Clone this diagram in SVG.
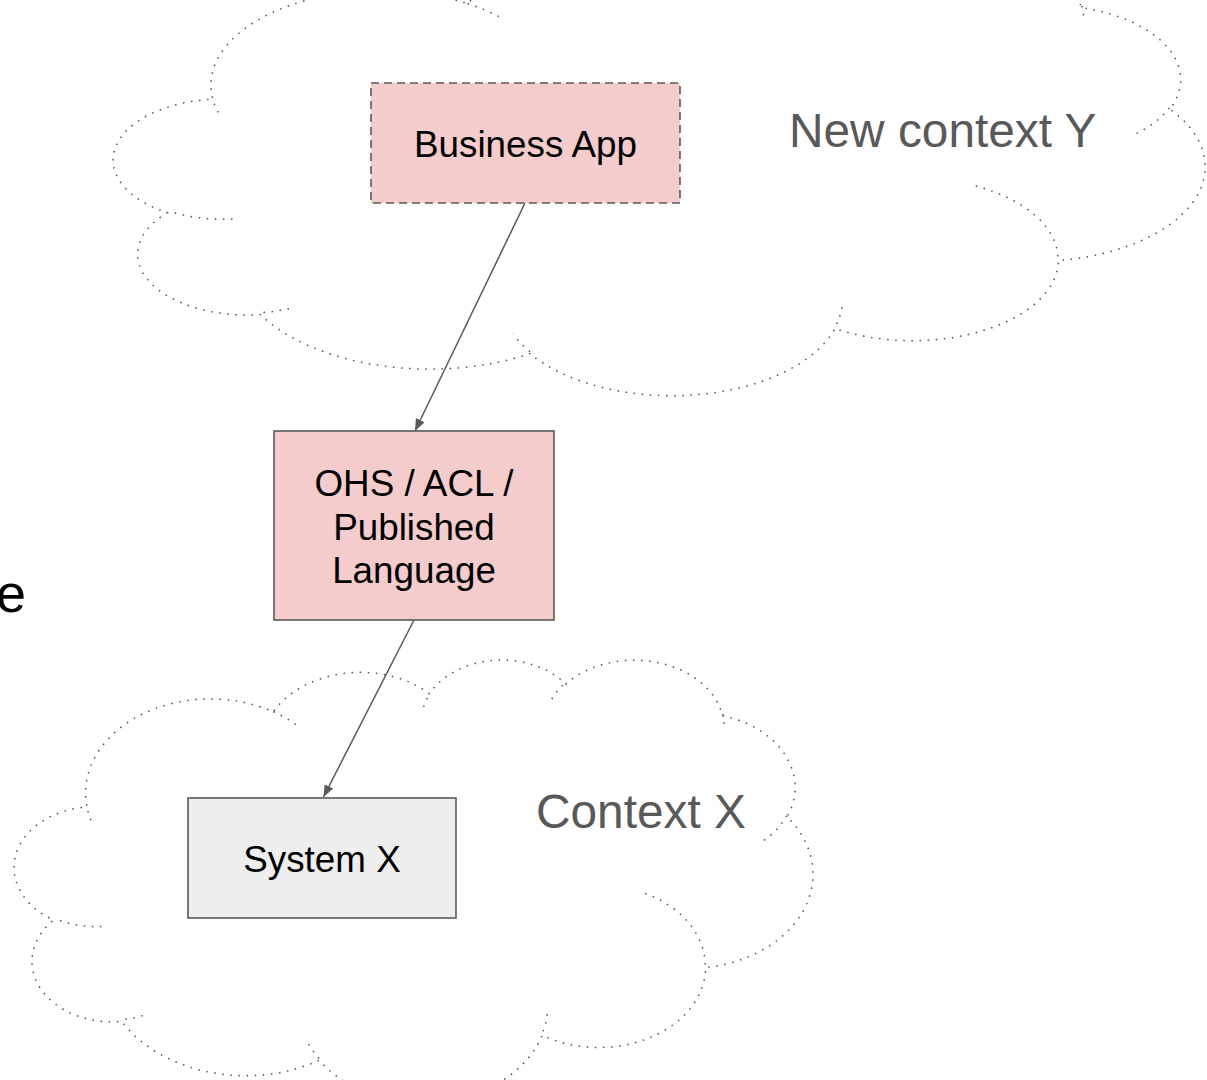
<svg xmlns="http://www.w3.org/2000/svg" width="1207" height="1080" viewBox="0 0 1207 1080">
<style>
.cloud{fill:none;stroke:#505050;stroke-width:1.5;stroke-dasharray:1.5 6.6;vector-effect:non-scaling-stroke}
.box{stroke:#595959;stroke-width:1.6}
.pink{fill:#f4cccc}
.grey{fill:#eeeeee}
.dashed{stroke-dasharray:8 5}
.lbl{font-family:"Liberation Sans",Arial,sans-serif;font-size:36.8px;fill:#000;text-anchor:middle}
.ctx{font-family:"Liberation Sans",Arial,sans-serif;font-size:47.8px;fill:#595959}
.conn{stroke:#595959;stroke-width:1.5;fill:none;marker-end:url(#arr)}
</style>
<defs>
<marker id="arr" viewBox="0 0 10 8" refX="10" refY="4" markerWidth="12" markerHeight="9.6" orient="auto" markerUnits="userSpaceOnUse">
<path d="M0,0 L10,4 L0,8 z" fill="#595959"/>
</marker>
<path id="cloudshape" class="cloud" d="M3900,14370 A6753,9190 0 0 1 14005,5202 A5333,7267 0 0 1 22456,3432 A4365,5945 0 0 1 29833,2481 A4857,6595 0 0 1 38315,5581 A5333,7273 0 0 1 41815,15465 A6775,9220 0 0 1 37401,30209 A5785,7867 0 0 1 28552,36819 A6752,9215 0 0 1 16477,39270 A7720,10543 0 0 1 5802,35476 A4360,5918 0 0 1 2111,25554 A4345,5945 0 0 1 3861,14511 Z M4693,26177 A4345,5945 0 0 1 2160,25380 M6928,34899 A4360,5918 0 0 1 5820,35280 M16478,39090 A6752,9215 0 0 1 15810,37350 M28827,34751 A6752,9215 0 0 1 28560,36660 M34129,22954 A5785,7867 0 0 1 37380,30090 M41798,15354 A5333,7273 0 0 1 40350,18030 M38324,5426 A4857,6595 0 0 1 38400,6690 M29078,3952 A4857,6595 0 0 1 29823,2335 M22141,4720 A4365,5945 0 0 1 22500,3330 M14000,5192 A6753,9190 0 0 1 15300,6540 M4127,15789 A6753,9190 0 0 1 3900,14370"/>
</defs>
<rect width="1207" height="1080" fill="#ffffff"/>
<g id="cloud-new-context-y">
<use href="#cloudshape" transform="translate(114,-49.8) scale(0.02525,0.010273)"/>
<text class="ctx" x="789" y="147">New context Y</text>
</g>
<g id="cloud-context-x">
<use href="#cloudshape" transform="translate(14.7,658.6) scale(0.018472,0.01023)"/>
<text class="ctx" x="536" y="828">Context X</text>
</g>
<g id="connectors">
<line class="conn" x1="525" y1="203" x2="415" y2="431"/>
<line class="conn" x1="414" y1="620" x2="323.5" y2="797"/>
</g>
<g id="node-business-app">
<rect class="box pink dashed" x="371" y="83" width="309" height="120"/>
<text class="lbl" x="525.5" y="157">Business App</text>
</g>
<g id="node-ohs">
<rect class="box pink" x="274" y="431" width="280" height="189"/>
<text class="lbl" x="414" y="496">OHS / ACL /</text>
<text class="lbl" x="414" y="539.5">Published</text>
<text class="lbl" x="414" y="583.3">Language</text>
</g>
<g id="node-system-x">
<rect class="box grey" x="188" y="798" width="268" height="120"/>
<text class="lbl" x="322" y="871.5">System X</text>
</g>
<text x="26" y="612" font-family="'Liberation Sans',Arial,sans-serif" font-size="54" fill="#000" text-anchor="end">e</text>
</svg>
